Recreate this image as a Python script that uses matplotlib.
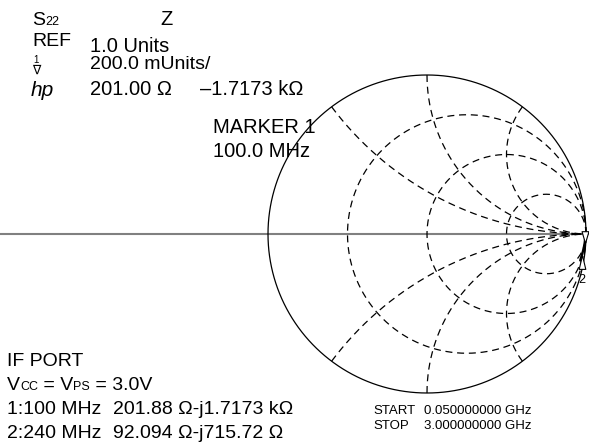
import numpy as np
import matplotlib
matplotlib.use("Agg")
import matplotlib.pyplot as plt
from matplotlib.path import Path

W, H = 589, 444
Z0 = 50.0

# Smith chart graticule values (normalised)
r_circles = [1 / 3, 1.0, 3.0]
x_arcs = [0.5, 1.0, 2.0, -0.5, -1.0, -2.0]

# S22 trace of the IF port
freq_mhz = [50, 100, 150, 200, 240, 300]
res_ohm = [560.0, 201.88, 135.0, 105.0, 92.094, 76.0]
react_ohm = [-3440.0, -1717.3, -1150.0, -860.0, -715.72, -575.0]

# marker readouts
marker_ids = ["1", "2"]
marker_freq = ["100 MHz", "240 MHz"]
marker_res = [201.88, 92.094]
marker_react = [-1717.3, -715.72]


def gamma(z):
    z = np.asarray(z, dtype=complex)
    return (z - 1) / (z + 1)


# chart placement in the figure (pixels)
CX, CY, RAD = 427.0, 234.0, 159.0

fig = plt.figure(figsize=(W / 100, H / 100), dpi=100)
ax = fig.add_axes([0, 0, 1, 1])
ax.set_xlim(-CX / RAD, (W - CX) / RAD)
ax.set_ylim(-(H - CY) / RAD, CY / RAD)
ax.set_aspect("equal")
ax.axis("off")

FONT = ["Liberation Sans", "DejaVu Sans"]
dash = (0, (5.6, 3.8))

# real axis
ax.axhline(0, color="#808080", lw=1.5, zorder=2)

# outer boundary
t = np.linspace(0, 2 * np.pi, 721)
ax.plot(np.cos(t), np.sin(t), color="black", lw=0.9, zorder=3)

# constant resistance circles
for r in r_circles:
    c, rad = r / (1 + r), 1 / (1 + r)
    ax.plot(c + rad * np.cos(t), rad * np.sin(t), color="black", lw=0.9,
            linestyle=dash, zorder=3)

# constant reactance arcs
rr = np.concatenate([[0.0], np.logspace(-3, 4, 800)])
for x in x_arcs:
    g = gamma(rr + 1j * x)
    ax.plot(g.real, g.imag, color="black", lw=0.9, linestyle=dash, zorder=3)

# measured trace
zt = (np.array(res_ohm) + 1j * np.array(react_ohm)) / Z0
gt = gamma(zt)
ax.plot(gt.real, gt.imag, color="black", lw=1.7, zorder=4,
        solid_capstyle="round")

# marker triangles with the apex on the trace
tri_down = Path([(0, 0), (-0.38, 1.3), (0.38, 1.3), (0, 0)],
                [Path.MOVETO, Path.LINETO, Path.LINETO, Path.CLOSEPOLY])
tri_up = Path([(0, 0), (-0.38, -1.6), (0.38, -1.6), (0, 0)],
              [Path.MOVETO, Path.LINETO, Path.LINETO, Path.CLOSEPOLY])
gm = gamma((np.array(marker_res) + 1j * np.array(marker_react)) / Z0)
ax.plot(gm[0].real, gm[0].imag, marker=tri_down, ms=17, mfc="white",
        mec="black", mew=0.8, zorder=5)
ax.plot(gm[1].real, gm[1].imag, marker=tri_up, ms=20, mfc="white",
        mec="black", mew=0.8, zorder=5)
ax.annotate(marker_ids[1], xy=(gm[1].real, gm[1].imag), xytext=(0, -25),
            textcoords="offset pixels", ha="center", va="center",
            fontsize=9, family=FONT, zorder=6)


def ptext(x, y, s, size=14, **kw):
    """Place text at pixel position (x from left, y baseline from top)."""
    return fig.text(x / W, 1 - y / H, s, fontsize=size, family=FONT,
                    va="baseline", ha="left", **kw)


renderer = fig.canvas.get_renderer()


def pieces(x, y, parts):
    """Write consecutive text runs of different sizes on one baseline."""
    for s, size in parts:
        tx = ptext(x, y, s, size)
        bb = tx.get_window_extent(renderer)
        x += bb.width


# header block
pieces(32, 25, [("S", 14), ("22", 9)])
ptext(160, 25, "Z", 14.5)
ptext(32, 46, "REF", 14)
ptext(90, 52, "1.0 Units", 14.5)
fig.text(36.5 / W, 1 - 63 / H, "1", fontsize=7, family=FONT, ha="center",
         va="baseline")
fig.text(36.5 / W, 1 - 74 / H, "\u2207", fontsize=9, family=FONT,
         ha="center", va="baseline")
ptext(90, 69, "200.0 mUnits/", 14)
ptext(31, 96, "hp", 15, style="italic")
ptext(90, 95, f"{marker_res[0] - 0.88:.2f} \u03a9", 14.5)
ptext(200, 95, f"\u2013{abs(marker_react[0]) / 1000:.4f} k\u03a9", 14.5)

ptext(213, 133, "MARKER " + marker_ids[0], 14.5)
ptext(213, 157, "100.0 MHz", 14.5)

# port description and marker list
ptext(7, 366, "IF PORT")
pieces(7, 390, [("V", 14), ("CC", 9), (" = V", 14), ("PS", 9),
                (" = 3.0V", 14)])
for i, yb in enumerate([414, 438]):
    ptext(7, yb, f"{marker_ids[i]}:{marker_freq[i]}")
    im = marker_react[i]
    im_txt = (f"{abs(im) / 1000:.4f} k\u03a9" if abs(im) >= 1000
              else f"{abs(im):.2f} \u03a9")
    res_txt = f"{marker_res[i]:.2f}" if marker_res[i] >= 100 else f"{marker_res[i]:.3f}"
    ptext(113, yb, f"{res_txt} \u03a9-j{im_txt}")

# sweep range
ptext(373, 414, "START", 9.5)
ptext(424, 414, "0.050000000 GHz", 9.5)
ptext(373, 429, "STOP", 9.5)
ptext(424, 429, "3.000000000 GHz", 9.5)

fig.savefig("out.png", dpi=100)
